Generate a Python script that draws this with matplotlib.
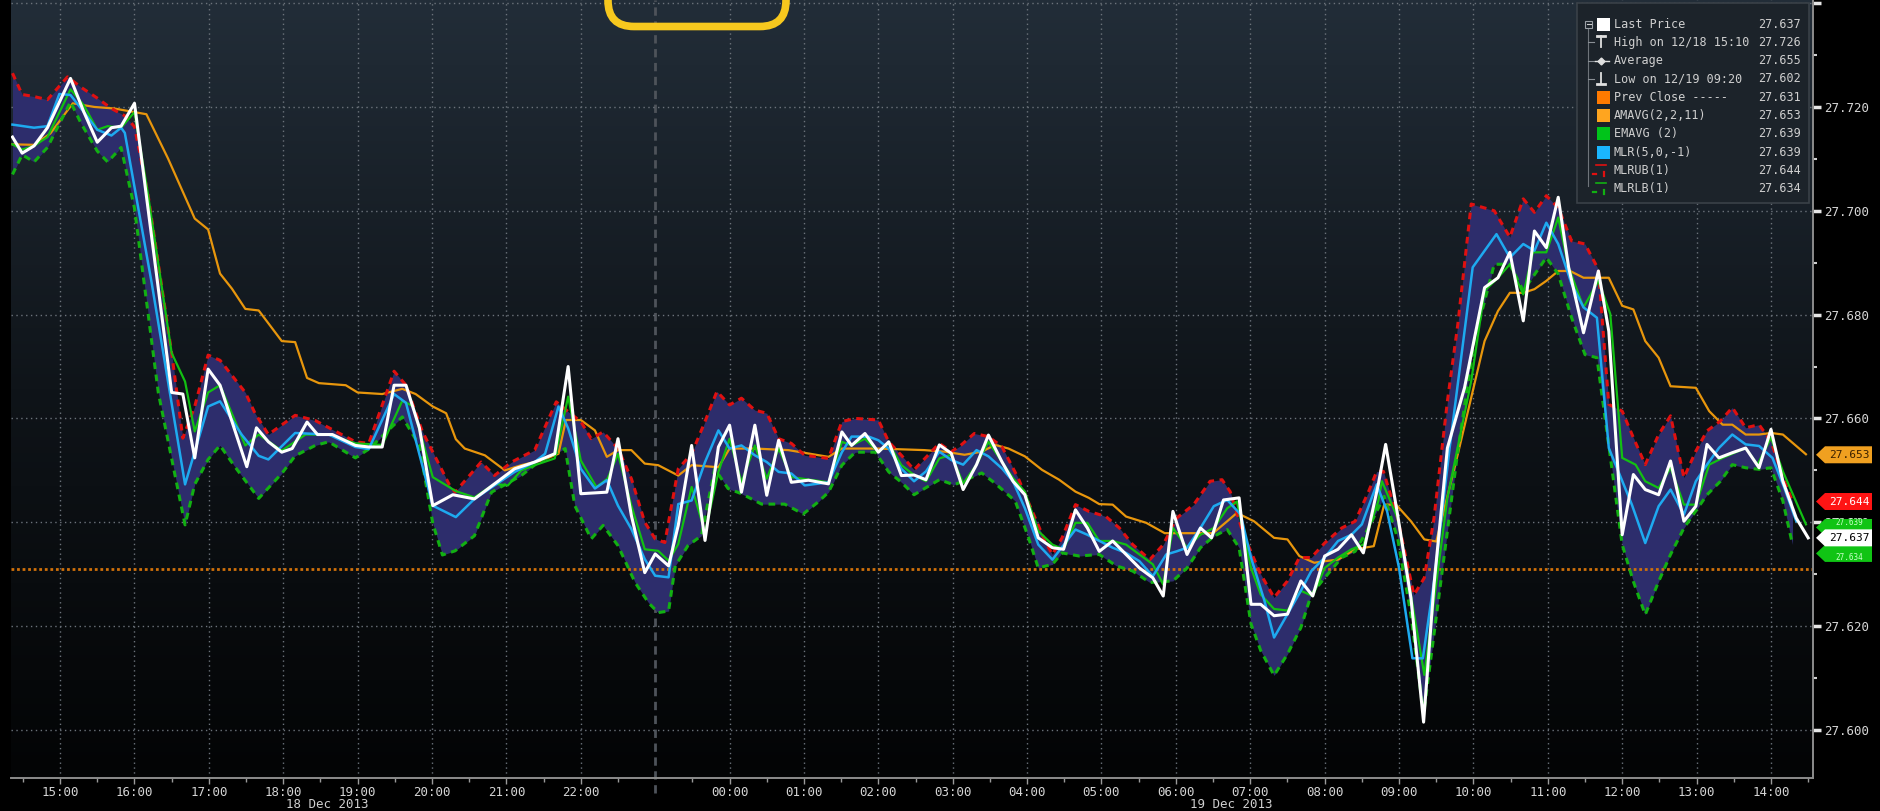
import numpy as np
import matplotlib
matplotlib.use("Agg")
import matplotlib.pyplot as plt
from matplotlib.patches import FancyBboxPatch, Polygon, Rectangle
from matplotlib.colors import LinearSegmentedColormap

# ---------------- data (time = hours since 00:00 18 Dec 2013) ----------------
last_price = [(14.36,27.7142),(14.49,27.7111),(14.65,27.7125),(14.83,27.7160),(15.14,27.7255),(15.32,27.7190),
 (15.50,27.7132),(15.69,27.7160),(15.82,27.7163),(16.00,27.7207),(16.50,27.6650),(16.65,27.6647),(16.81,27.6524),
 (16.99,27.6695),(17.15,27.6664),(17.51,27.6507),(17.64,27.6582),(17.80,27.6555),(17.98,27.6535),(18.12,27.6542),
 (18.32,27.6593),(18.46,27.6569),(18.66,27.6569),(18.97,27.6548),(19.15,27.6545),(19.33,27.6545),(19.49,27.6664),
 (19.65,27.6664),(19.83,27.6582),(20.01,27.6432),(20.28,27.6453),(20.57,27.6445),(20.84,27.6474),(21.11,27.6503),
 (21.38,27.6516),(21.65,27.6532),(21.83,27.6700),(22.00,27.6455),(22.35,27.6458),(22.50,27.6561),(22.68,27.6413),
 (22.86,27.6303),(23.00,27.6339),(23.18,27.6316),(23.31,27.6394),(23.49,27.6548),(23.67,27.6365),(23.85,27.6545),
 (24.00,27.6587),(24.16,27.6458),(24.34,27.6587),(24.50,27.6452),(24.66,27.6558),(24.83,27.6477),(25.06,27.6481),
 (25.33,27.6474),(25.51,27.6574),(25.64,27.6548),(25.82,27.6571),(26.00,27.6535),(26.14,27.6555),(26.31,27.6490),
 (26.48,27.6491),(26.64,27.6482),(26.82,27.6549),(26.98,27.6533),(27.14,27.6463),(27.32,27.6511),(27.48,27.6568),
 (27.66,27.6517),(27.81,27.6479),(27.97,27.6453),(28.15,27.6370),(28.34,27.6351),(28.49,27.6348),(28.65,27.6424),
 (28.81,27.6389),(28.97,27.6344),(29.15,27.6364),(29.33,27.6338),(29.51,27.6312),(29.69,27.6293),(29.83,27.6258),
 (29.96,27.6421),(30.15,27.6338),(30.33,27.6389),(30.48,27.6370),(30.64,27.6443),(30.85,27.6447),(31.01,27.6242),
 (31.14,27.6242),(31.32,27.6220),(31.50,27.6223),(31.68,27.6287),(31.84,27.6258),(32.00,27.6335),(32.18,27.6348),
 (32.36,27.6376),(32.52,27.6341),(32.72,27.6472),(32.82,27.6550),(32.98,27.6415),(33.16,27.6254),(33.33,27.6015),
 (33.47,27.6280),(33.65,27.6543),(33.88,27.6659),(34.15,27.6852),(34.33,27.6871),(34.49,27.6920),(34.67,27.6788),
 (34.82,27.6961),(34.98,27.6929),(35.14,27.7026),(35.28,27.6891),(35.48,27.6765),(35.68,27.6884),(35.82,27.6768),
 (36.00,27.6376),(36.15,27.6492),(36.31,27.6463),(36.49,27.6453),(36.65,27.6518),(36.83,27.6402),(36.99,27.6431),
 (37.14,27.6550),(37.30,27.6524),(37.48,27.6534),(37.66,27.6543),(37.84,27.6505),(38.00,27.6579),(38.16,27.6479),
 (38.34,27.6408),(38.50,27.6370)]

mlr = [(14.36,27.7166),(14.65,27.7160),(14.83,27.7163),(14.99,27.7225),(15.14,27.7223),(15.32,27.7190),(15.50,27.7156),
 (15.69,27.7145),(15.82,27.7160),(15.87,27.7150),(16.23,27.6862),(16.68,27.6473),(16.99,27.6623),(17.15,27.6633),
 (17.44,27.6569),(17.67,27.6528),(17.80,27.6521),(18.16,27.6572),(18.61,27.6569),(18.97,27.6545),(19.15,27.6541),
 (19.49,27.6647),(19.65,27.6630),(20.01,27.6432),(20.32,27.6410),(20.57,27.6445),(20.84,27.6471),(21.11,27.6497),
 (21.38,27.6516),(21.52,27.6532),(21.70,27.6623),(21.83,27.6581),(22.00,27.6503),(22.19,27.6465),(22.35,27.6481),
 (22.50,27.6432),(22.68,27.6387),(22.86,27.6329),(23.00,27.6297),(23.18,27.6294),(23.31,27.6435),(23.49,27.6442),
 (23.67,27.6516),(23.85,27.6577),(24.00,27.6542),(24.16,27.6548),(24.34,27.6529),(24.50,27.6516),(24.66,27.6497),
 (24.83,27.6494),(25.01,27.6471),(25.33,27.6477),(25.51,27.6535),(25.64,27.6565),(25.87,27.6565),(26.00,27.6558),
 (26.14,27.6542),(26.31,27.6503),(26.48,27.6479),(26.64,27.6498),(26.82,27.6536),(26.98,27.6520),(27.14,27.6511),
 (27.32,27.6539),(27.48,27.6527),(27.66,27.6504),(27.81,27.6479),(27.97,27.6427),(28.15,27.6357),(28.34,27.6328),
 (28.65,27.6386),(28.81,27.6376),(29.15,27.6351),(29.33,27.6341),(29.51,27.6325),(29.69,27.6296),(29.87,27.6338),
 (30.01,27.6344),(30.15,27.6351),(30.33,27.6389),(30.51,27.6431),(30.69,27.6443),(30.87,27.6415),(31.01,27.6332),
 (31.19,27.6249),(31.32,27.6178),(31.50,27.6223),(31.68,27.6268),(31.82,27.6306),(32.00,27.6332),(32.18,27.6364),
 (32.36,27.6376),(32.50,27.6396),(32.70,27.6473),(32.84,27.6421),(33.00,27.6312),(33.18,27.6138),(33.32,27.6138),
 (33.47,27.6286),(33.68,27.6543),(33.99,27.6891),(34.31,27.6955),(34.49,27.6910),(34.67,27.6936),(34.82,27.6923),
 (34.98,27.6977),(35.14,27.6936),(35.32,27.6859),(35.48,27.6814),(35.66,27.6794),(35.82,27.6543),(36.13,27.6434),
 (36.31,27.6360),(36.49,27.6431),(36.65,27.6463),(36.83,27.6415),(36.99,27.6479),(37.14,27.6511),(37.30,27.6543),
 (37.48,27.6569),(37.66,27.6550),(37.84,27.6547),(38.02,27.6524),(38.18,27.6466),(38.34,27.6402)]

emavg = [(14.36,27.7128),(14.49,27.7118),(14.65,27.7125),(14.83,27.7142),(15.14,27.7234),(15.32,27.7203),(15.50,27.7156),
 (15.64,27.7163),(15.82,27.7160),(16.00,27.7190),(16.18,27.7033),(16.50,27.6726),(16.68,27.6671),(16.81,27.6575),
 (16.99,27.6650),(17.15,27.6664),(17.49,27.6548),(17.67,27.6569),(17.98,27.6538),(18.30,27.6569),(18.61,27.6569),
 (18.97,27.6552),(19.33,27.6549),(19.60,27.6634),(19.74,27.6624),(20.01,27.6487),(20.32,27.6460),(20.57,27.6448),
 (20.84,27.6474),(21.02,27.6471),(21.20,27.6500),(21.38,27.6510),(21.65,27.6523),(21.83,27.6642),(22.00,27.6519),
 (22.21,27.6468),(22.36,27.6484),(22.50,27.6532),(22.68,27.6432),(22.86,27.6348),(23.04,27.6345),(23.18,27.6326),
 (23.31,27.6358),(23.49,27.6468),(23.67,27.6381),(23.85,27.6497),(24.00,27.6561),(24.16,27.6477),(24.34,27.6548),
 (24.50,27.6484),(24.66,27.6542),(24.83,27.6487),(25.33,27.6477),(25.51,27.6555),(25.64,27.6548),(25.82,27.6561),
 (26.00,27.6535),(26.14,27.6552),(26.31,27.6510),(26.48,27.6491),(26.64,27.6479),(26.82,27.6523),(26.98,27.6530),
 (27.14,27.6475),(27.32,27.6511),(27.48,27.6555),(27.66,27.6517),(27.81,27.6485),(27.97,27.6459),(28.15,27.6383),
 (28.34,27.6357),(28.49,27.6348),(28.65,27.6399),(28.81,27.6399),(28.97,27.6364),(29.15,27.6364),(29.33,27.6357),
 (29.51,27.6338),(29.69,27.6319),(29.83,27.6280),(29.96,27.6389),(30.15,27.6351),(30.33,27.6376),(30.51,27.6389),
 (30.69,27.6427),(30.82,27.6440),(31.01,27.6312),(31.14,27.6261),(31.32,27.6233),(31.50,27.6230),(31.68,27.6268),
 (31.84,27.6258),(32.00,27.6312),(32.18,27.6332),(32.36,27.6348),(32.52,27.6357),(32.72,27.6440),(32.77,27.6479),
 (32.98,27.6408),(33.16,27.6260),(33.34,27.6106),(33.65,27.6447),(33.97,27.6672),(34.15,27.6846),(34.33,27.6871),
 (34.49,27.6897),(34.67,27.6839),(34.80,27.6920),(34.98,27.6920),(35.14,27.6987),(35.28,27.6891),(35.48,27.6814),
 (35.68,27.6865),(35.84,27.6801),(36.00,27.6524),(36.18,27.6511),(36.31,27.6479),(36.49,27.6466),(36.65,27.6505),
 (36.83,27.6434),(36.99,27.6434),(37.17,27.6511),(37.35,27.6524),(37.66,27.6543),(37.82,27.6511),(38.00,27.6563),
 (38.16,27.6498),(38.47,27.6396)]

amavg = [(14.36,27.7128),(14.65,27.7127),(14.87,27.7149),(15.17,27.7207),(15.46,27.7200),(15.73,27.7197),(16.00,27.7190),
 (16.16,27.7186),(16.45,27.7101),(16.81,27.6985),(16.99,27.6964),(17.15,27.6879),(17.31,27.6850),(17.49,27.6811),
 (17.67,27.6808),(17.98,27.6749),(18.16,27.6747),(18.32,27.6678),(18.48,27.6668),(18.84,27.6664),(19.00,27.6650),
 (19.33,27.6647),(19.60,27.6657),(19.78,27.6647),(20.01,27.6623),(20.19,27.6610),(20.32,27.6560),(20.44,27.6542),
 (20.71,27.6529),(20.98,27.6500),(21.20,27.6510),(21.47,27.6519),(21.70,27.6532),(21.80,27.6597),(22.00,27.6597),
 (22.19,27.6577),(22.35,27.6526),(22.50,27.6539),(22.68,27.6539),(22.86,27.6513),(23.04,27.6510),(23.31,27.6490),
 (23.49,27.6510),(23.85,27.6506),(24.00,27.6542),(24.34,27.6542),(24.79,27.6539),(25.33,27.6526),(25.51,27.6542),
 (26.00,27.6542),(26.62,27.6539),(26.89,27.6536),(27.16,27.6530),(27.39,27.6536),(27.57,27.6549),(27.75,27.6542),
 (27.97,27.6527),(28.20,27.6501),(28.43,27.6482),(28.65,27.6459),(28.83,27.6447),(28.97,27.6435),(29.15,27.6434),
 (29.33,27.6411),(29.60,27.6399),(29.85,27.6379),(30.50,27.6379),(30.69,27.6402),(30.82,27.6418),(31.05,27.6402),
 (31.32,27.6370),(31.50,27.6367),(31.66,27.6335),(31.86,27.6322),(32.00,27.6325),(32.18,27.6328),(32.41,27.6348),
 (32.66,27.6354),(32.80,27.6434),(32.96,27.6434),(33.16,27.6402),(33.34,27.6367),(33.50,27.6363),(33.79,27.6531),
 (33.97,27.6640),(34.15,27.6749),(34.33,27.6807),(34.49,27.6842),(34.67,27.6842),(34.82,27.6849),(34.98,27.6865),
 (35.14,27.6884),(35.30,27.6884),(35.48,27.6871),(35.82,27.6871),(36.00,27.6817),(36.15,27.6810),(36.31,27.6749),
 (36.49,27.6717),(36.65,27.6662),(36.99,27.6659),(37.17,27.6614),(37.35,27.6588),(37.48,27.6588),(37.66,27.6569),
 (37.84,27.6569),(38.00,27.6572),(38.16,27.6569),(38.47,27.6531)]

mlr_upper = [(14.36,27.7265),(14.49,27.7224),(14.65,27.7220),(14.83,27.7214),(15.10,27.7258),(15.28,27.7238),(15.50,27.7217),
 (15.69,27.7197),(15.87,27.7183),(16.00,27.7162),(16.18,27.7033),(16.50,27.6726),(16.65,27.6562),(16.81,27.6623),
 (16.99,27.6722),(17.15,27.6712),(17.49,27.6650),(17.62,27.6610),(17.80,27.6569),(18.16,27.6606),(18.43,27.6596),
 (18.97,27.6555),(19.15,27.6552),(19.49,27.6691),(19.65,27.6664),(19.87,27.6575),(20.23,27.6473),(20.31,27.6458),
 (20.66,27.6516),(20.84,27.6490),(21.07,27.6516),(21.38,27.6539),(21.67,27.6632),(21.83,27.6613),(22.00,27.6594),
 (22.14,27.6561),(22.30,27.6574),(22.50,27.6542),(22.68,27.6484),(22.86,27.6400),(23.00,27.6368),(23.13,27.6361),
 (23.31,27.6503),(23.49,27.6532),(23.65,27.6587),(23.83,27.6652),(24.00,27.6626),(24.16,27.6639),(24.34,27.6616),
 (24.50,27.6610),(24.66,27.6561),(24.83,27.6552),(25.01,27.6529),(25.33,27.6523),(25.51,27.6594),(25.69,27.6600),
 (26.00,27.6597),(26.14,27.6555),(26.31,27.6529),(26.48,27.6501),(26.82,27.6552),(26.98,27.6536),(27.09,27.6546),
 (27.29,27.6571),(27.48,27.6565),(27.66,27.6546),(27.88,27.6485),(28.24,27.6364),(28.34,27.6338),(28.47,27.6370),
 (28.65,27.6434),(28.83,27.6421),(29.06,27.6411),(29.24,27.6389),(29.42,27.6357),(29.65,27.6328),(29.83,27.6357),
 (30.01,27.6408),(30.24,27.6434),(30.46,27.6479),(30.62,27.6482),(30.73,27.6459),(30.91,27.6376),(31.14,27.6300),
 (31.32,27.6255),(31.50,27.6287),(31.66,27.6332),(31.82,27.6332),(32.00,27.6360),(32.23,27.6389),(32.41,27.6402),
 (32.59,27.6459),(32.70,27.6498),(32.79,27.6498),(32.98,27.6408),(33.20,27.6260),(33.34,27.6293),(33.47,27.6408),
 (33.65,27.6633),(33.79,27.6781),(33.97,27.7013),(34.28,27.7000),(34.49,27.6949),(34.67,27.7023),(34.82,27.6997),
 (34.98,27.7029),(35.14,27.7006),(35.32,27.6942),(35.50,27.6936),(35.68,27.6887),(35.82,27.6627),(36.00,27.6614),
 (36.15,27.6563),(36.31,27.6511),(36.49,27.6569),(36.65,27.6605),(36.83,27.6486),(36.99,27.6537),(37.14,27.6576),
 (37.32,27.6595),(37.48,27.6621),(37.66,27.6582),(37.84,27.6588),(38.00,27.6556),(38.18,27.6479),(38.29,27.6440)]

mlr_lower = [(14.36,27.7070),(14.49,27.7108),(14.65,27.7094),(14.83,27.7122),(15.14,27.7210),(15.28,27.7169),(15.50,27.7115),
 (15.64,27.7094),(15.82,27.7122),(16.00,27.7005),(16.32,27.6650),(16.68,27.6395),(16.81,27.6473),(16.99,27.6521),
 (17.15,27.6548),(17.35,27.6507),(17.67,27.6446),(17.98,27.6494),(18.16,27.6528),(18.43,27.6548),(18.61,27.6555),
 (18.97,27.6524),(19.15,27.6541),(19.60,27.6603),(19.83,27.6548),(20.01,27.6398),(20.14,27.6337),(20.31,27.6345),
 (20.57,27.6374),(20.80,27.6458),(21.20,27.6490),(21.43,27.6516),(21.65,27.6532),(21.79,27.6542),(21.92,27.6432),
 (22.14,27.6368),(22.30,27.6394),(22.50,27.6355),(22.73,27.6284),(22.91,27.6245),(23.04,27.6226),(23.18,27.6229),
 (23.27,27.6316),(23.44,27.6355),(23.62,27.6374),(23.80,27.6503),(23.98,27.6465),(24.16,27.6455),(24.43,27.6435),
 (24.74,27.6435),(24.99,27.6416),(25.19,27.6439),(25.33,27.6458),(25.51,27.6510),(25.69,27.6535),(25.96,27.6535),
 (26.14,27.6497),(26.31,27.6477),(26.48,27.6453),(26.82,27.6482),(27.02,27.6472),(27.39,27.6495),(27.57,27.6475),
 (27.84,27.6441),(28.02,27.6370),(28.15,27.6312),(28.34,27.6319),(28.47,27.6341),(28.70,27.6335),(28.97,27.6338),
 (29.20,27.6316),(29.42,27.6306),(29.65,27.6284),(29.96,27.6287),(30.15,27.6312),(30.33,27.6351),(30.51,27.6373),
 (30.69,27.6386),(30.85,27.6351),(31.01,27.6204),(31.14,27.6153),(31.32,27.6105),(31.50,27.6146),(31.68,27.6197),
 (31.82,27.6261),(32.00,27.6293),(32.23,27.6332),(32.41,27.6344),(32.59,27.6389),(32.72,27.6427),(32.80,27.6450),
 (32.98,27.6370),(33.16,27.6222),(33.33,27.6030),(33.65,27.6383),(33.79,27.6537),(34.01,27.6749),(34.28,27.6897),
 (34.49,27.6897),(34.67,27.6846),(34.98,27.6910),(35.14,27.6878),(35.32,27.6794),(35.50,27.6723),(35.66,27.6717),
 (36.00,27.6357),(36.15,27.6286),(36.31,27.6222),(36.49,27.6286),(36.65,27.6338),(36.83,27.6389),(37.14,27.6453),
 (37.32,27.6479),(37.48,27.6511),(37.66,27.6505),(37.84,27.6502),(38.00,27.6505),(38.16,27.6441),(38.29,27.6357)]

prev_close = 27.631
separator_hour = 23.0
tick_hours = [h for h in range(15, 39) if h != 23]
y_ticks = [27.60, 27.62, 27.64, 27.66, 27.68, 27.70, 27.72, 27.74]
date_labels = [(18.59, "18 Dec 2013"), (30.75, "19 Dec 2013")]

legend_labels = ["Last Price", "High on 12/18 15:10", "Average", "Low on 12/19 09:20", "Prev Close -----",
                 "AMAVG(2,2,11)", "EMAVG (2)", "MLR(5,0,-1)", "MLRUB(1)", "MLRLB(1)"]
legend_values = ["27.637", "27.726", "27.655", "27.602", "27.631", "27.653", "27.639", "27.639", "27.644", "27.634"]

tag_values = [27.653, 27.644, 27.639, 27.634, 27.637]
tag_faces = ["#f0a020", "#ff1414", "#10c414", "#10c414", "#ffffff"]
tag_texts = ["#3a2000", "#ffffff", "#c8ffc8", "#c8ffc8", "#000000"]
tag_sizes = [8, 8, 5.5, 5.5, 8]
tag_dy = [0.5, 0.5, -4.5, 4.0, 0.5]

# ---------------- figure ----------------
W, H = 1881, 811
MONO = "DejaVu Sans Mono"
fig = plt.figure(figsize=(W / 100, H / 100), dpi=100, facecolor="black")
ax_left, ax_right, ax_bottom = 11, 1813, 777.7
ax = fig.add_axes([ax_left / W, 1 - ax_bottom / H, (ax_right - ax_left) / W, ax_bottom / H])
ax.set_facecolor("black")

cmap = LinearSegmentedColormap.from_list("bg", [(0, "#030405"), (0.5, "#0f1419"), (1, "#222d38")])
grad = np.linspace(0, 1, 256).reshape(-1, 1)
ax.imshow(grad, extent=[0, 1, 0, 1], transform=ax.transAxes, cmap=cmap, aspect="auto",
          origin="lower", zorder=0, interpolation="bilinear")

xlim = (14.34, 38.565)
ylim = (27.5908, 27.7406)

def xy(series):
    a = np.array(series)
    return a[:, 0], a[:, 1]

# band fill
tu, vu = xy(mlr_upper)
tl, vl = xy(mlr_lower)
tg = np.union1d(tu, tl)
tg = tg[(tg >= max(tu[0], tl[0])) & (tg <= min(tu[-1], tl[-1]))]
ax.fill_between(tg, np.interp(tg, tl, vl), np.interp(tg, tu, vu), color="#2d2d6c", lw=0, zorder=2)

ax.axhline(prev_close, color="#d0700a", lw=2.0, ls=(0, (1, 1)), zorder=2.5)
ax.axvline(separator_hour, color="#4e535a", lw=2.0, ls=(0, (3, 2)), zorder=1.5, ymin=-0.02, clip_on=False)

t, v = xy(amavg)
ax.plot(t, v, color="#e8960c", lw=1.6, zorder=3)
ax.plot(tu, vu, color="#e01010", lw=2.2, ls=(0, (2.2, 1.8)), zorder=3.2)
ax.plot(tl, vl, color="#12b012", lw=2.2, ls=(0, (2.2, 1.8)), zorder=3.2)
t, v = xy(emavg)
ax.plot(t, v, color="#12c012", lw=1.6, zorder=4)
t, v = xy(mlr)
ax.plot(t, v, color="#1eaaf0", lw=1.8, zorder=4.5)
t, v = xy(last_price)
ax.plot(t, v, color="#ffffff", lw=2.2, zorder=5)

ax.set_xlim(*xlim)
ax.set_ylim(*ylim)

# ticks & grid
ax.set_xticks(tick_hours)
ax.set_xticklabels([f"{h % 24:02d}:00" for h in tick_hours])
ax.set_xticks(np.arange(14.5, 38.6, 1.0), minor=True)
ax.yaxis.tick_right()
ax.set_yticks(y_ticks)
ax.set_yticklabels([f"{y:.3f}" if y < 27.73 else "" for y in y_ticks])
ax.set_yticks(np.arange(27.61, 27.74, 0.02), minor=True)
ax.grid(True, which="major", color="#6c737b", lw=1.0, ls=(0, (1, 2.5)), zorder=1)
ax.tick_params(axis="x", which="major", direction="out", length=4, width=1, color="#9a9a9a",
               labelcolor="#d4d4d4", labelsize=9, pad=2)
ax.tick_params(axis="x", which="minor", direction="out", length=3, width=1, color="#9a9a9a")
ax.tick_params(axis="y", which="major", direction="out", length=6, width=2.5, color="#e6e6e6",
               labelcolor="#d6d6d6", labelsize=9, pad=2, right=True, left=False)
ax.tick_params(axis="y", which="minor", direction="out", length=3, width=1.5, color="#cfcfcf",
               right=True, left=False)
for lab in ax.get_xticklabels() + ax.get_yticklabels():
    lab.set_fontfamily(MONO)
for s in ("left", "top"):
    ax.spines[s].set_visible(False)
for s in ("right", "bottom"):
    ax.spines[s].set_color("#8c8c8c")
    ax.spines[s].set_linewidth(1.4)

# ---------------- overlay in pixel coordinates (top-origin) ----------------
ov = fig.add_axes([0, 0, 1, 1], zorder=10)
ov.set_xlim(0, W)
ov.set_ylim(H, 0)
ov.axis("off")
ov.patch.set_alpha(0)

def px(xv, yv):
    d = ax.transData.transform((xv, yv))
    return d[0], H - d[1]

# date labels
for hx, txt in date_labels:
    x0, _ = px(hx, ylim[0])
    ov.text(x0, 797.5, txt, ha="center", va="top", color="#d0d0d0", fontsize=9, family=MONO)

# price tags
for val, fc, tc, fs, dy in zip(tag_values, tag_faces, tag_texts, tag_sizes, tag_dy):
    _, yc = px(xlim[1], val)
    hh = 8.5
    poly = Polygon([(1816, yc), (1825, yc - hh), (1872, yc - hh), (1872, yc + hh), (1825, yc + hh)],
                   closed=True, fc=fc, ec="none")
    ov.add_patch(poly)
    ov.text(1849, yc + dy, f"{val:.3f}", ha="center", va="center", color=tc, fontsize=fs, family=MONO)

# legend box
ov.add_patch(Rectangle((1577, 3), 232, 200, fc="#1c232a", ec="#3a4148", lw=1.2))
row_y = [24 + 18.33 * i for i in range(10)]
for i, (lab, val) in enumerate(zip(legend_labels, legend_values)):
    ov.text(1614, row_y[i], lab, ha="left", va="center", color="#cfcfcf", fontsize=8.5, family=MONO)
    ov.text(1801, row_y[i], val, ha="right", va="center", color="#cfcfcf", fontsize=8.5, family=MONO)
# tree line
ov.plot([1588, 1588], [29, 186], color="#6e747a", lw=0.8)
ov.add_patch(Rectangle((1585, 20.5), 7, 7, fc="#1c232a", ec="#9aa0a6", lw=0.8))
ov.plot([1586.5, 1590.5], [24, 24], color="#cfcfcf", lw=0.8)
for yy in row_y[1:4]:
    ov.plot([1588, 1594], [yy, yy], color="#8a9096", lw=0.8)
# icons
ov.add_patch(Rectangle((1597, row_y[0] - 6.5), 13, 13, fc="#ffffff", ec="none"))
ov.plot([1597, 1605], [row_y[1] - 6, row_y[1] - 6], color="#e0e0e0", lw=2)
ov.plot([1601, 1601], [row_y[1] - 6, row_y[1] + 5], color="#e0e0e0", lw=1.3)
ov.plot([1595, 1609], [row_y[2], row_y[2]], color="#e0e0e0", lw=1.0)
ov.plot([1601], [row_y[2]], marker="D", ms=3.5, color="#e0e0e0")
ov.plot([1597, 1605], [row_y[3] + 5, row_y[3] + 5], color="#e0e0e0", lw=2)
ov.plot([1601, 1601], [row_y[3] - 6, row_y[3] + 5], color="#e0e0e0", lw=1.3)
for i, c in zip(range(4, 8), ["#ff7a00", "#ffa51f", "#00c41a", "#1ab6ff"]):
    ov.add_patch(Rectangle((1597, row_y[i] - 6.5), 13, 13, fc=c, ec="none"))
for i, c in ((8, "#e01010"), (9, "#12b012")):
    ov.plot([1596, 1606], [row_y[i] - 6, row_y[i] - 6], color=c, lw=1.2)
    ov.plot([1593, 1596], [row_y[i] + 3, row_y[i] + 3], color=c, lw=1.6)
    ov.plot([1604, 1604], [row_y[i] + 1, row_y[i] + 5], color=c, lw=1.6)

# yellow highlight box at top
ov.add_patch(FancyBboxPatch((608, -80), 178, 106.5, boxstyle="round,pad=0,rounding_size=26",
                            fill=False, ec="#f7c81e", lw=5.5))

fig.savefig("out.png", dpi=100, facecolor="black")
